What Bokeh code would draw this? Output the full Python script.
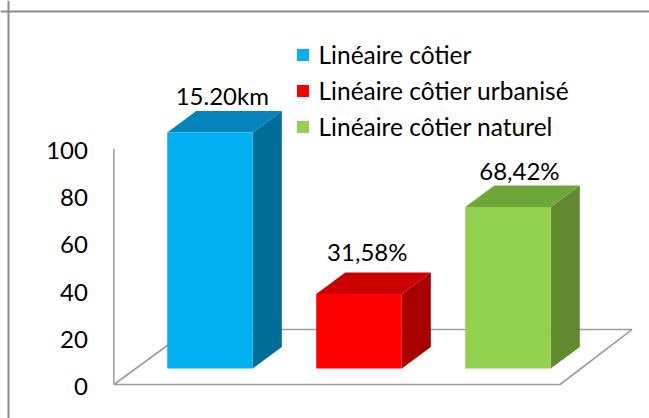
from bokeh.plotting import figure
from bokeh.models import Range1d, Span, Legend, LegendItem, FixedTicker, LinearAxis
from bokeh.core.properties import value
from bokeh.embed import file_html
from bokeh.resources import INLINE

categories = ["Linéaire côtier", "Linéaire côtier urbanisé", "Linéaire côtier naturel"]
values = [100, 31.58, 68.42]
bar_labels = ["15.20km", "31,58%", "68,42%"]
y_ticks = [0, 20, 40, 60, 80, 100]
front_colors = ["#00B0F0", "#FF0000", "#92D050"]
side_colors = ["#006E98", "#A80000", "#5F8A30"]
top_colors = ["#0583BB", "#CC0000", "#6FA63A"]

W, H = 649, 418
FONT = "Lato"
GRAY = "#9C9C9C"
cat_px = 149.0
unit_px = 2.36
x0_px = 209.5
y0_px = 384.0
bar_w = 0.574
base = 6.78
dx = 0.195
dy = 9.1
label_shift_px = 2

y_start = -(H - y0_px) / unit_px
y_end = y0_px / unit_px

p = figure(width=W, height=H, output_backend="svg", toolbar_location=None,
           x_range=Range1d(-x0_px / cat_px, (W - x0_px) / cat_px),
           y_range=Range1d(y_start, y_end),
           x_axis_location=None, y_axis_location=None,
           min_border=0, outline_line_color=None)
p.grid.visible = False

# outer frame: left and top edges only
p.add_layout(Span(location=p.x_range.start + 8 / cat_px, dimension="height", line_color="#8C8C8C", line_width=2))
p.add_layout(Span(location=y_end - 11 / unit_px, dimension="width", line_color="#8C8C8C", line_width=2))

# floor and wall
axis_x = -0.645
p.line([axis_x, 2.349, 2.832, -0.14, axis_x],
       [0, 0, 23.3, 23.3, 0], line_color=GRAY, line_width=1.6)
p.line([axis_x, axis_x], [0, 100], line_color=GRAY, line_width=1.5)

# y axis labels, on a range nudged so the text centres sit on the reference's
p.extra_y_ranges = {"ticks": Range1d(y_start + label_shift_px / unit_px, y_end + label_shift_px / unit_px)}
ax = LinearAxis(y_range_name="ticks", fixed_location=axis_x, ticker=FixedTicker(ticks=y_ticks))
ax.major_tick_line_color = None
ax.minor_tick_line_color = None
ax.axis_line_color = None
ax.major_label_standoff = 20
ax.major_label_text_font = FONT
ax.major_label_text_font_size = "24px"
ax.major_label_text_color = "#000000"
p.add_layout(ax, "left")

fronts = []
for i, v in enumerate(values):
    l, r = i - bar_w / 2, i + bar_w / 2
    b, t = base, base + v
    p.patch([r, r + dx, r + dx, r], [b, b + dy, t + dy, t], fill_color=side_colors[i], line_color=None)
    p.patch([l, r, r + dx, l + dx], [t, t, t + dy, t + dy], fill_color=top_colors[i], line_color=None)
    fronts.append(p.vbar(x=[i], width=bar_w, bottom=[b], top=[t], fill_color=front_colors[i], line_color=None))

label_x_offsets = [-0.015, -0.042, -0.021]
label_y_offsets = [6.7, 8.7, 6.3]
p.text(x=[i + dx / 2 + o for i, o in enumerate(label_x_offsets)],
       y=[base + v + dy + o for v, o in zip(values, label_y_offsets)],
       text=bar_labels, text_align="center", text_baseline="alphabetic",
       text_font=value(FONT), text_font_size="24px", text_color="#000000")

legend = Legend(items=[LegendItem(label=c, renderers=[r]) for c, r in zip(categories, fronts)],
                location=(294.5, H - 141), orientation="vertical",
                glyph_width=15, glyph_height=15, label_standoff=9, spacing=7,
                label_height=15, padding=0, margin=0,
                background_fill_alpha=0, border_line_color=None,
                label_text_font=FONT, label_text_font_size="24.5px", label_text_color="#000000")
p.add_layout(legend, "center")

open("out.html", "w").write(file_html(p, INLINE))
